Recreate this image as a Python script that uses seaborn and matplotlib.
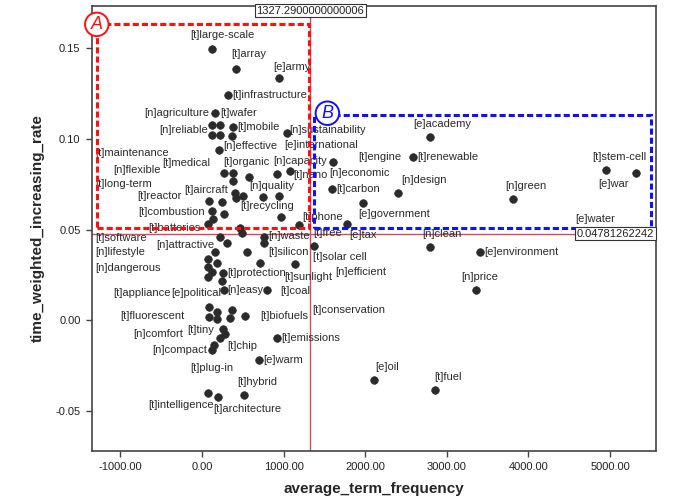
import pandas as pd
import matplotlib.pyplot as plt
import seaborn as sns
from matplotlib.patches import Rectangle
from matplotlib.ticker import FormatStrFormatter, MultipleLocator

# 数据
terms = [
    '[t]large-scale', '[t]array', '[e]army', '[t]infrastructure', '[n]agriculture',
    '[t]wafer', '[n]reliable', '[t]maintenance', '[t]medical', '[t]mobile',
    '[e]international', '[n]sustainability', '[n]effective', '[n]flexible', '[t]organic',
    '[t]long-term', '', '[n]capacity', '[t]nano', '[t]aircraft',
    '', '', '[n]quality', '[n]economic', '[t]reactor',
    '', '', '', '[t]combustion', '[t]batteries',
    '[t]recycling', '', '[t]phone', '', '[t]software',
    '', '[n]waste', '', '[t]free', '[t]solar cell',
    '[t]silicon', '[e]tax', '[t]engine', '[t]carbon', '[n]design',
    '[e]government', '[e]academy', '[t]renewable', '[n]green', '[t]stem-cell',
    '[e]war', '[e]water', '[n]clean', '[e]environment', '[n]price',
    '[e]oil', '[t]fuel', '[n]lifestyle', '[n]attractive', '[n]efficient',
    '[t]sunlight', '[n]dangerous', '', '[t]conservation', '[t]protection',
    '[t]appliance', '[e]political', '[n]easy', '[t]fluorescent', '',
    '[t]coal', '', '[n]comfort', '', '[t]biofuels',
    '[t]tiny', '[t]chip', '', '[n]compact', '[t]plug-in',
    '[t]emissions', '[e]warm', '[t]intelligence', '[t]architecture', '[t]hybrid',
]
freq = [
    119, 417, 947, 322, 159,
    221, 119, 119, 221, 384,
    364, 1038, 212, 270, 384,
    384, 576, 915, 1078, 404,
    413, 506, 744, 944, 89,
    241, 119, 273, 138, 77,
    968, 466, 1189, 494, 221,
    303, 760, 760, 1376, 1140,
    711, 1773, 1609, 1589, 2406,
    1969, 2794, 2589, 3815, 4951,
    5319, 4755, 2790, 3407, 3361,
    2108, 2855, 159, 548, 77,
    180, 77, 119, 77, 261,
    241, 270, 793, 89, 180,
    364, 343, 89, 180, 527,
    254, 282, 221, 147, 119,
    923, 699, 77, 192, 515,
]
rate = [
    0.1496, 0.1388, 0.1338, 0.1242, 0.1145,
    0.1077, 0.1077, 0.1022, 0.1022, 0.1068,
    0.1017, 0.1035, 0.0939, 0.0811, 0.0811,
    0.0770, 0.0792, 0.0805, 0.0823, 0.0704,
    0.0673, 0.0687, 0.0678, 0.0685, 0.0660,
    0.0652, 0.0604, 0.0585, 0.0557, 0.0529,
    0.0568, 0.0511, 0.0526, 0.0480, 0.0458,
    0.0428, 0.0461, 0.0428, 0.0410, 0.0310,
    0.0318, 0.0531, 0.0873, 0.0722, 0.0700,
    0.0649, 0.1009, 0.0899, 0.0667, 0.0829,
    0.0814, 0.0487, 0.0403, 0.0377, 0.0167,
    -0.0329, -0.0384, 0.0378, 0.0378, 0.0336,
    0.0318, 0.0296, 0.0268, 0.0237, 0.0259,
    0.0217, 0.0167, 0.0167, 0.0072, 0.0047,
    0.0057, 0.0011, 0.0017, 0.0006, 0.0024,
    -0.0050, -0.0076, -0.0099, -0.0136, -0.0164,
    -0.0099, -0.0219, -0.0399, -0.0421, -0.0412,
]
x_ref = 1327.2900000000006
y_ref = 0.04781262242

# 标签相对点的偏移 (像素)
label_dx = [
    -22, -5, -6, 4, -71,
    0, -53, -117, -58, 4,
    52, 3, 4, -111, -10,
    -138, 0, -3, 3, -51,
    0, 0, -14, 50, -72,
    0, 0, 0, -75, -60,
    -41, 0, 3, 0, -125,
    0, 4, 0, -1, 18,
    8, 3, 25, 5, 3,
    -4, -17, 4, -8, -14,
    -38, -15, -7, 4, -15,
    1, -1, -120, -91, 127,
    68, -113, 0, 104, 4,
    -108, -53, -40, -89, 0,
    48, 0, -76, 0, 15,
    -36, 2, 0, -62, -22,
    4, 4, -60, -4, -7,
]
label_dy = [
    14, 15, 11, 0, 0,
    12, -5, -18, -28, 0,
    -9, 3, 4, 3, 11,
    -3, 0, 13, -4, 3,
    0, 0, 11, 23, 5,
    0, 0, 0, 7, -4,
    11, 0, 8, 0, -1,
    0, 1, 0, 13, 7,
    11, -11, 5, 0, 13,
    -11, 13, 0, 13, 13,
    -11, 13, 13, 0, 13,
    13, 13, 0, 7, -13,
    -14, -1, 0, -33, 0,
    -12, -3, 0, -9, 0,
    19, 0, -17, 0, 0,
    -1, -12, 0, -5, -18,
    0, 0, -12, -12, 13,
]

df = pd.DataFrame({'average_term_frequency': freq,
                   'time_weighted_increasing_rate': rate,
                   'term': terms})

sns.set_theme(style='white')
plt.rcParams['font.family'] = ['Liberation Sans', 'DejaVu Sans']

fig = plt.figure(figsize=(6.76, 5.03), dpi=100)
ax = fig.add_axes([0.1357, 0.104, 0.970 - 0.1357, 0.9887 - 0.104])

# 参考线
ax.axvline(x_ref, color='#d8485a', lw=1, zorder=1)
ax.axhline(y_ref, color='#d8485a', lw=1, zorder=1)

# 标签
for x, y, t, dx, dy in zip(freq, rate, terms, label_dx, label_dy):
    if t:
        ax.annotate(t, (x, y), xytext=(dx, dy), textcoords='offset pixels',
                    ha='left', va='center', fontsize=8, color='#2a2a2a', zorder=2)

sns.scatterplot(data=df, x='average_term_frequency', y='time_weighted_increasing_rate',
                color='#2b2b2b', s=30, edgecolor='#2b2b2b', linewidth=0.5, ax=ax, zorder=3)

# 区域 A / B
ax.add_patch(Rectangle((-1283, 0.0509), 1308 + 1283, 0.1632 - 0.0509, fill=False,
                       ec='#ff1010', lw=2.2, ls=(0, (2, 1)), zorder=4))
ax.add_patch(Rectangle((1376, 0.0507), 5499 - 1376, 0.1131 - 0.0507, fill=False,
                       ec='#1010ff', lw=2.2, ls=(0, (2, 1)), zorder=4))
ax.text(-1290, 0.1632, 'A', color='#ff1010', fontsize=13, style='italic',
        ha='center', va='center', zorder=5,
        bbox=dict(boxstyle='circle,pad=0.18', fc='white', ec='#ff1010', lw=1.4))
ax.text(1536, 0.1142, 'B', color='#1010ff', fontsize=13, style='italic',
        ha='center', va='center', zorder=5,
        bbox=dict(boxstyle='circle,pad=0.18', fc='white', ec='#1010ff', lw=1.4))

# 参考值标签
ax.text(x_ref, 0.1735, str(x_ref), fontsize=8, ha='center', va='top', color='#222222',
        zorder=6, bbox=dict(boxstyle='square,pad=0.15', fc='white', ec='#333333', lw=0.8))
ax.text(5545, y_ref, '0.04781262242', fontsize=8, ha='right', va='center', color='#222222',
        zorder=6, bbox=dict(boxstyle='square,pad=0.15', fc='white', ec='#333333', lw=0.8))

ax.set_xlim(-1352, 5560)
ax.set_ylim(-0.0719, 0.1735)
ax.xaxis.set_major_locator(MultipleLocator(1000))
ax.yaxis.set_major_locator(MultipleLocator(0.05))
ax.xaxis.set_major_formatter(FormatStrFormatter('%.2f'))
ax.yaxis.set_major_formatter(FormatStrFormatter('%.2f'))
ax.tick_params(axis='both', direction='out', length=4.5, width=1, color='#444444',
               labelsize=8, labelcolor='#222222', bottom=True, left=True)
for sp in ax.spines.values():
    sp.set_color('#444444')
    sp.set_linewidth(1.2)

ax.set_xlabel('average_term_frequency', fontsize=11, fontweight='bold', labelpad=7)
ax.set_ylabel('time_weighted_increasing_rate', fontsize=11, fontweight='bold', labelpad=8)

plt.savefig('out.png', dpi=100)
plt.close()
